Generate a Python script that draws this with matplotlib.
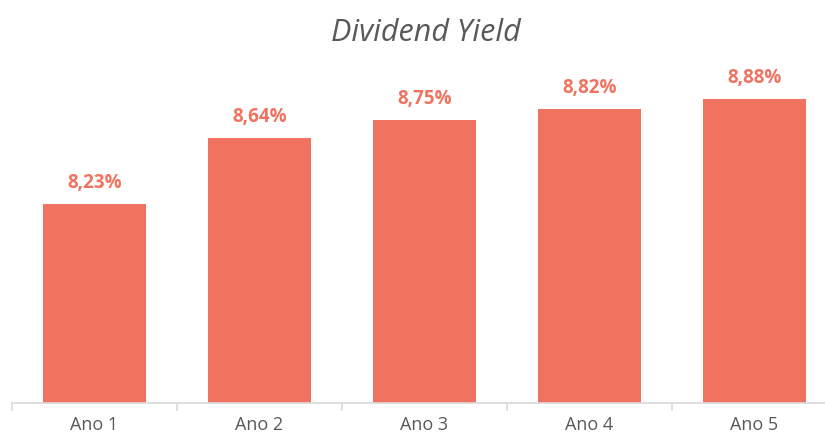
import matplotlib
matplotlib.use("Agg")
import matplotlib.pyplot as plt
import numpy as np

categories = ["Ano 1", "Ano 2", "Ano 3", "Ano 4", "Ano 5"]
values = [8.23, 8.64, 8.75, 8.82, 8.88]
labels = ["8,23%", "8,64%", "8,75%", "8,82%", "8,88%"]

bar_color = "#F07360"
text_gray = "#595959"
axis_gray = "#D9D9D9"

fig = plt.figure(figsize=(8.25, 4.36), dpi=100)
ax = fig.add_axes([12/825, (436-403)/436, 825/825, (403-79.5)/436])

x = np.arange(len(categories))
ax.bar(x, values, width=103/165, color=bar_color, zorder=2)
ax.set_ylim(7.0, 9.0)
ax.set_xlim(-0.5, len(categories) - 0.5)

for xi, v, lab in zip(x, values, labels):
    ax.annotate(lab, (xi, v), xytext=(0, 8), textcoords="offset points",
                ha="center", va="bottom", color=bar_color, fontsize=13.5,
                fontweight="bold", family="Open Sans")

for s in ["left", "right", "top"]:
    ax.spines[s].set_visible(False)
ax.spines["bottom"].set_color(axis_gray)
ax.spines["bottom"].set_linewidth(1.2)
ax.set_yticks([])

ax.set_xticks(x)
ax.set_xticklabels(categories, fontsize=13, color=text_gray, family="Open Sans")
ax.tick_params(axis="x", which="major", length=0, pad=9)
ax.set_xticks(np.arange(-0.5, len(categories) + 0.5, 1), minor=True)
ax.tick_params(axis="x", which="minor", length=6, color=axis_gray, width=1.2)

fig.text(0.516, 0.925, "Dividend Yield", ha="center", va="center",
         fontsize=22, style="italic", color=text_gray, family="Open Sans")

fig.savefig("out.png", dpi=100, facecolor="white")
